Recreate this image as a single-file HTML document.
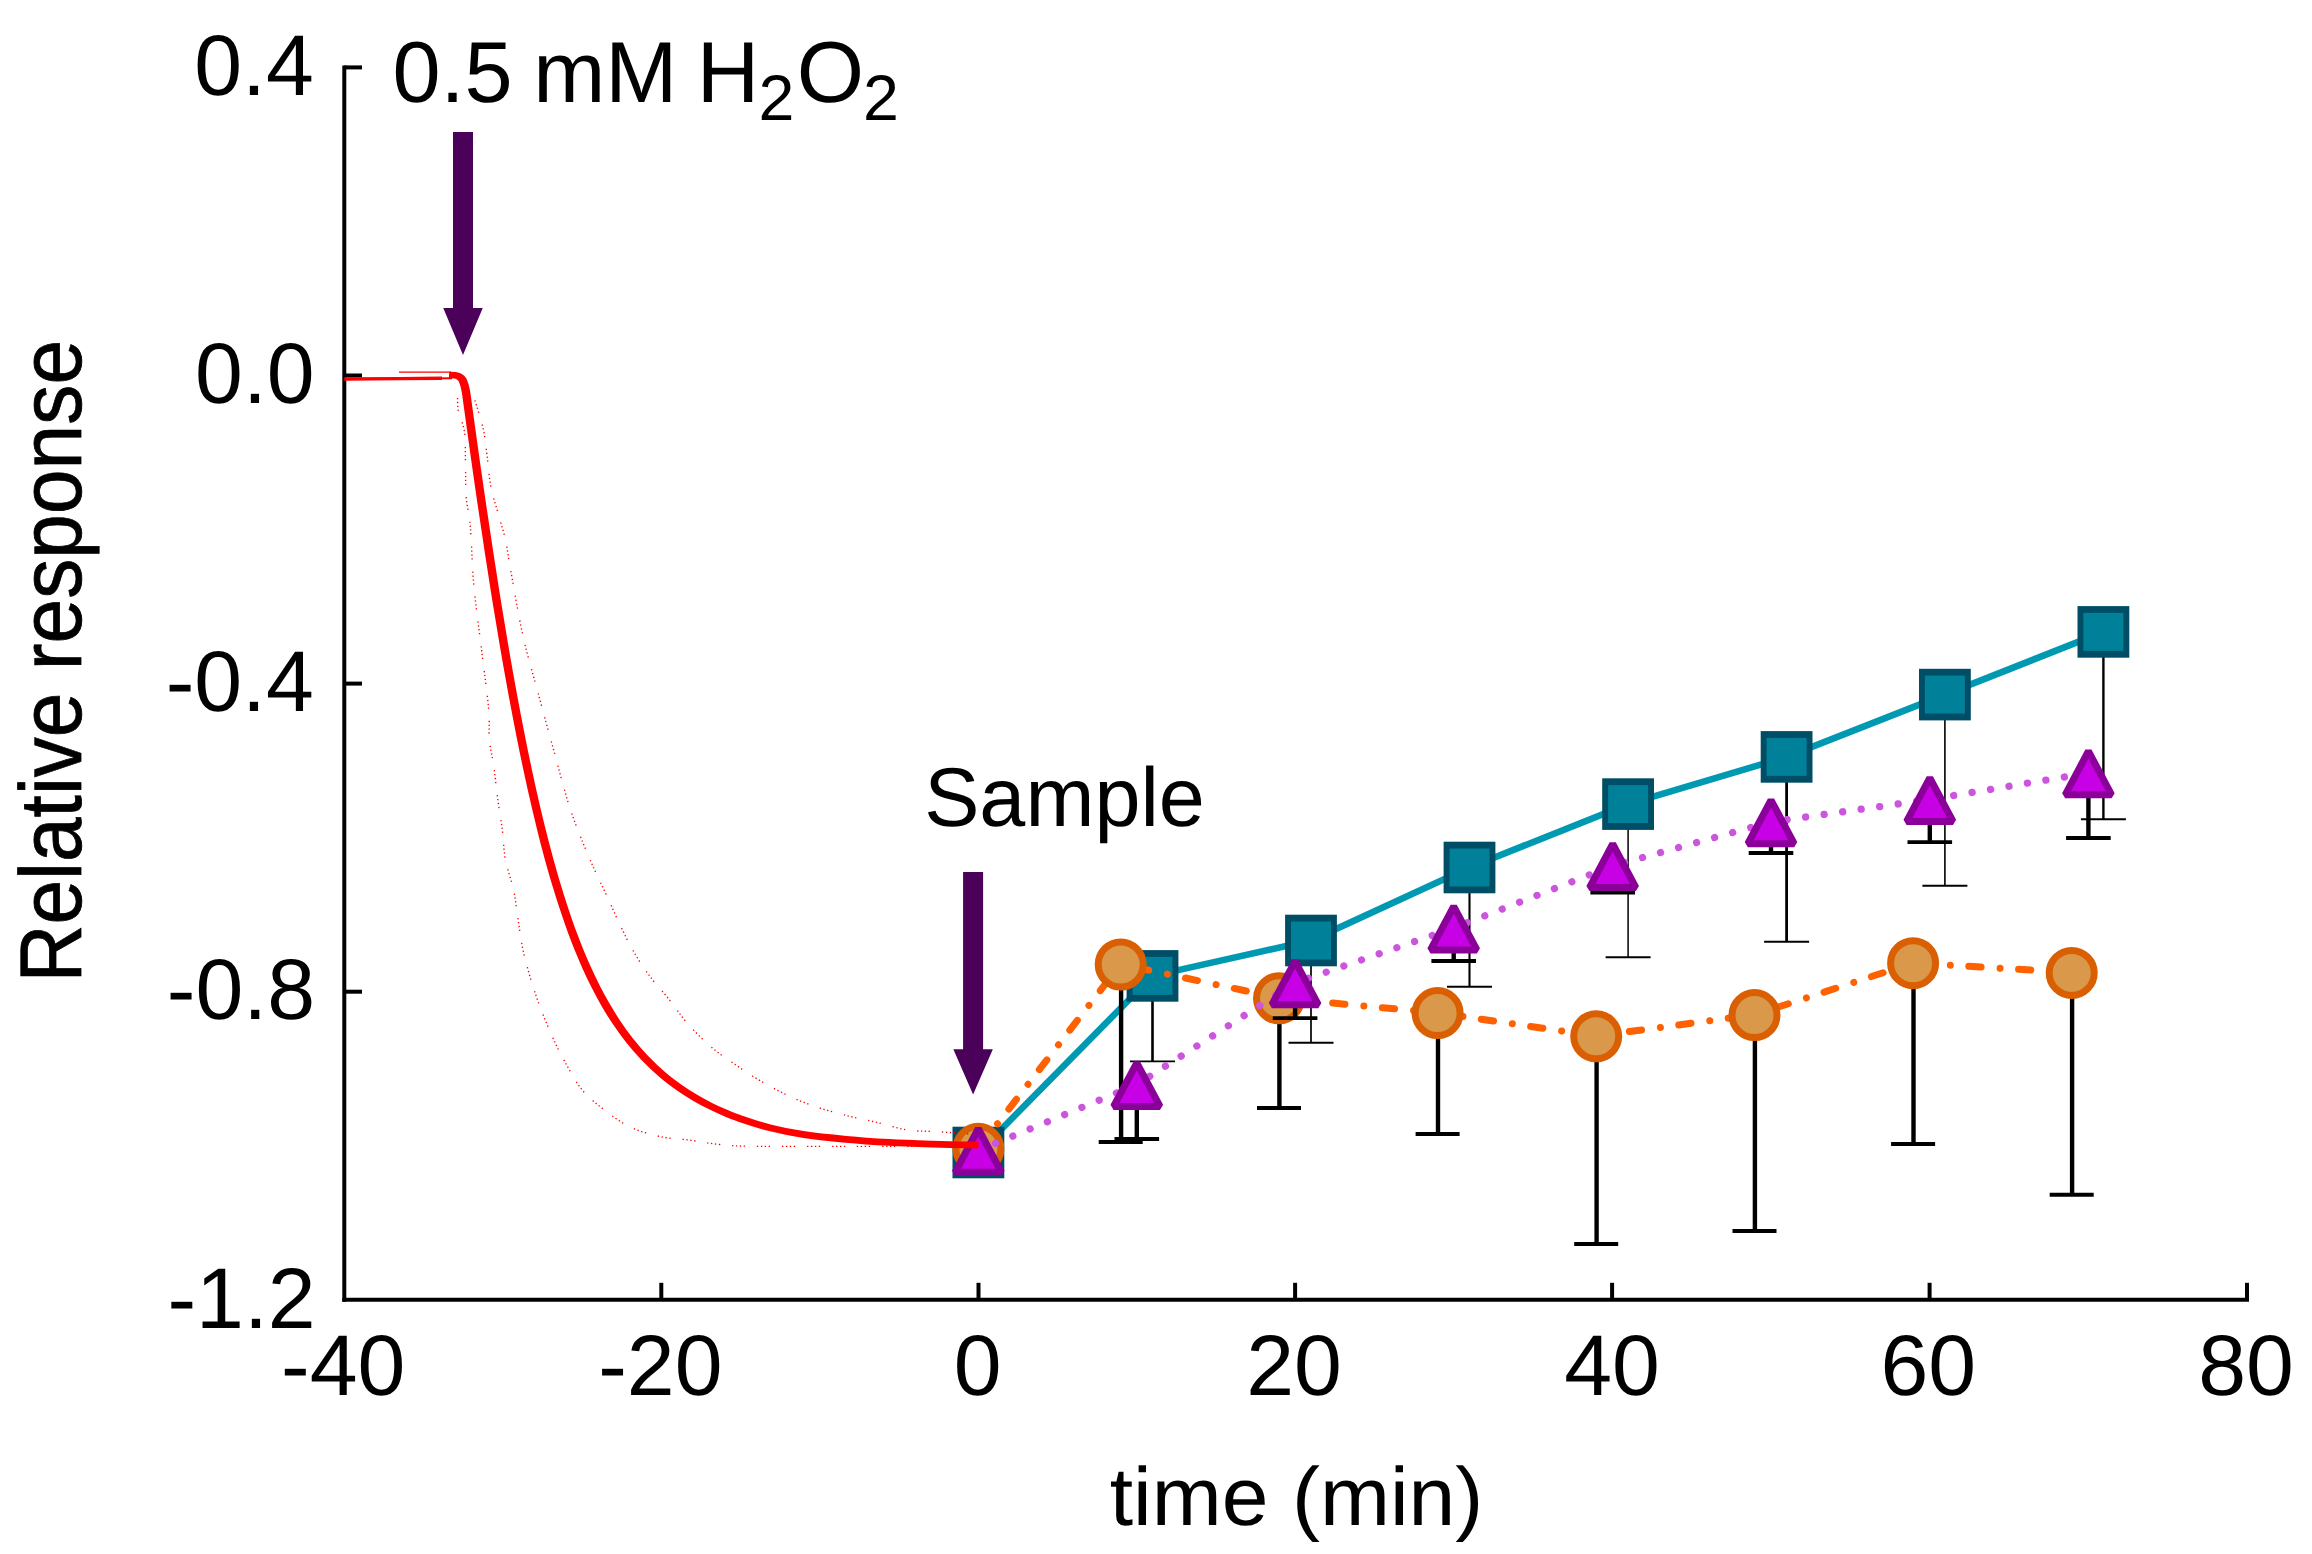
<!DOCTYPE html>
<html lang="en"><head><meta charset="utf-8"><title>Relative response vs time</title>
<style>html,body{margin:0;padding:0;background:#fff;overflow:hidden}svg{display:block}svg text{font-family:"Liberation Sans",sans-serif;text-rendering:geometricPrecision}</style></head>
<body>
<svg width="2312" height="1554" viewBox="0 0 2312 1554" role="img" aria-label="Relative response versus time (min)">
<rect width="2312" height="1554" fill="#fff"/>
<g stroke="#000" stroke-width="4.0" fill="none" stroke-linecap="butt">
<path d="M344.3 65.5 V1301.8"/>
<path d="M342.3 1299.8 H2249.0"/>
<path d="M344.3 67.4 H362"/>
<path d="M344.3 375.5 H362"/>
<path d="M344.3 683.6 H362"/>
<path d="M344.3 991.7 H362"/>
<path d="M661.3 1299.8 V1282.8"/>
<path d="M978.5 1299.8 V1282.8"/>
<path d="M1295.1 1299.8 V1282.8"/>
<path d="M1612.1 1299.8 V1282.8"/>
<path d="M1929.6 1299.8 V1282.8"/>
<path d="M2247.0 1299.8 V1282.8"/>
</g>
<g fill="#000">
<text transform="translate(194.27 95.10) scale(1.0000 1)" font-size="86" >0.4</text>
<text transform="translate(195.11 403.20) scale(1.0000 1)" font-size="86" >0.0</text>
<text transform="translate(165.63 711.30) scale(1.0000 1)" font-size="86" >-0.4</text>
<text transform="translate(166.85 1019.40) scale(1.0000 1)" font-size="86" >-0.8</text>
<text transform="translate(167.43 1327.50) scale(1.0000 1)" font-size="86" >-1.2</text>
<text transform="translate(281.12 1394.60) scale(1.0000 1)" font-size="86" >-40</text>
<text transform="translate(598.22 1394.60) scale(1.0000 1)" font-size="86" >-20</text>
<text transform="translate(953.79 1394.60) scale(1.0000 1)" font-size="86" >0</text>
<text transform="translate(1246.19 1394.60) scale(1.0000 1)" font-size="86" >20</text>
<text transform="translate(1564.26 1394.60) scale(1.0000 1)" font-size="86" >40</text>
<text transform="translate(1880.47 1394.60) scale(1.0000 1)" font-size="86" >60</text>
<text transform="translate(2198.18 1394.60) scale(1.0000 1)" font-size="86" >80</text>
<text font-size="86.5" y="102.3"><tspan x="392.40">0.5</tspan> <tspan x="533.17">mM</tspan> <tspan x="696.75">H</tspan><tspan x="758.41" dy="17.7" font-size="64.5">2</tspan><tspan x="796.78" dy="-17.7">O</tspan><tspan x="863.06" dy="17.7" font-size="64.5">2</tspan></text>
<text transform="translate(924.14 825.60) scale(0.9916 1)" font-size="83.5" >Sample</text>
<text transform="translate(1109.73 1524.70) scale(1.0189 1)" font-size="82.5" >time (min)</text>
<text transform="translate(81.1 982.49) rotate(-90) scale(0.9174 1)" font-size="87.5" stroke="#000" stroke-width="0.8">Relative response</text>
</g>
<path fill="#4B005A" d="M453.0 132 H473.0 V308 H482.75 L463 355.1 L443.25 308 H453.0 Z"/>
<path fill="#4B005A" d="M963.1 872.1 H983.1 V1049.2 H992.85 L973.1 1094.6 L953.35 1049.2 H963.1 Z"/>
<g stroke="#000" stroke-width="1.9" fill="none">
<path stroke-width="2.6" d="M1152.5 975.9 V1061.4"/><path d="M1130.0 1061.4 H1175.0"/>
<path stroke-width="1.7" d="M1311.0 940.5 V1042.7"/><path d="M1288.5 1042.7 H1333.5"/>
<path stroke-width="2.1" d="M1469.5 867.5 V986.7"/><path d="M1447.0 986.7 H1492.0"/>
<path stroke-width="1.5" d="M1628.1 804.1 V957.3"/><path d="M1605.6 957.3 H1650.6"/>
<path stroke-width="2.8" d="M1786.6 756.9 V941.8"/><path d="M1764.1 941.8 H1809.1"/>
<path stroke-width="1.6" d="M1944.9 694.6 V885.7"/><path d="M1922.4 885.7 H1967.4"/>
<path stroke-width="2.4" d="M2103.4 631.9 V819.3"/><path d="M2080.9 819.3 H2125.9"/>
</g>
<polyline fill="none" stroke="#0099B2" stroke-width="6.6" points="978.4,1152.5 1152.5,975.9 1311.0,940.5 1469.5,867.5 1628.1,804.1 1786.6,756.9 1944.9,694.6 2103.4,631.9"/>
<rect x="952.50" y="1126.70" width="51.8" height="51.6" fill="#004D66"/><rect x="958.40" y="1133.50" width="40" height="38" fill="#008099"/>
<rect x="1126.60" y="950.10" width="51.8" height="51.6" fill="#004D66"/><rect x="1132.50" y="956.90" width="40" height="38" fill="#008099"/>
<rect x="1285.10" y="914.70" width="51.8" height="51.6" fill="#004D66"/><rect x="1291.00" y="921.50" width="40" height="38" fill="#008099"/>
<rect x="1443.60" y="841.70" width="51.8" height="51.6" fill="#004D66"/><rect x="1449.50" y="848.50" width="40" height="38" fill="#008099"/>
<rect x="1602.20" y="778.30" width="51.8" height="51.6" fill="#004D66"/><rect x="1608.10" y="785.10" width="40" height="38" fill="#008099"/>
<rect x="1760.70" y="731.10" width="51.8" height="51.6" fill="#004D66"/><rect x="1766.60" y="737.90" width="40" height="38" fill="#008099"/>
<rect x="1919.00" y="668.80" width="51.8" height="51.6" fill="#004D66"/><rect x="1924.90" y="675.60" width="40" height="38" fill="#008099"/>
<rect x="2077.50" y="606.10" width="51.8" height="51.6" fill="#004D66"/><rect x="2083.40" y="612.90" width="40" height="38" fill="#008099"/>
<g stroke="#000" fill="none">
<path stroke-width="4.4" d="M1121.1000000000001 964.2 V1141.9"/><path stroke-width="4" d="M1098.7 1141.9 H1142.7"/>
<path stroke-width="4.4" d="M1279.4 998.0 V1107.9"/><path stroke-width="4" d="M1257.0 1107.9 H1301.0"/>
<path stroke-width="4.4" d="M1438.0 1012.8 V1134.1"/><path stroke-width="4" d="M1415.6 1134.1 H1459.6"/>
<path stroke-width="4.4" d="M1596.6000000000001 1036.0 V1244.0"/><path stroke-width="4" d="M1574.2 1244.0 H1618.2"/>
<path stroke-width="4.4" d="M1754.9 1014.8 V1231.1"/><path stroke-width="4" d="M1732.5 1231.1 H1776.5"/>
<path stroke-width="4.4" d="M1913.5 962.9 V1143.9"/><path stroke-width="4" d="M1891.1 1143.9 H1935.1"/>
<path stroke-width="4.4" d="M2072.1 972.6 V1194.8"/><path stroke-width="4" d="M2049.7 1194.8 H2093.7"/>
</g>
<polyline fill="none" stroke="#FF6000" stroke-width="7" stroke-linecap="round" stroke-dasharray="12.3 19 0.01 18.54" points="978.4,1148.5 1120.7,964.2 1279.0,998.0 1437.6,1012.8 1596.2,1036.0 1754.5,1014.8 1913.1,962.9 2071.7,972.6"/>
<circle cx="978.4" cy="1148.8" r="22.5" fill="#D9984A" stroke="#D95F02" stroke-width="7"/>
<circle cx="1120.7" cy="964.5" r="22.5" fill="#D9984A" stroke="#D95F02" stroke-width="7"/>
<circle cx="1279.0" cy="998.3" r="22.5" fill="#D9984A" stroke="#D95F02" stroke-width="7"/>
<circle cx="1437.6" cy="1013.1" r="22.5" fill="#D9984A" stroke="#D95F02" stroke-width="7"/>
<circle cx="1596.2" cy="1036.3" r="22.5" fill="#D9984A" stroke="#D95F02" stroke-width="7"/>
<circle cx="1754.5" cy="1015.1" r="22.5" fill="#D9984A" stroke="#D95F02" stroke-width="7"/>
<circle cx="1913.1" cy="963.2" r="22.5" fill="#D9984A" stroke="#D95F02" stroke-width="7"/>
<circle cx="2071.7" cy="972.9" r="22.5" fill="#D9984A" stroke="#D95F02" stroke-width="7"/>
<g stroke="#000" fill="none">
<path stroke-width="4.4" d="M1136.8 1085.5500000000002 V1139.0"/><path stroke-width="3.8" d="M1114.5 1139.0 H1159.1"/>
<path stroke-width="4.4" d="M1295.1 983.85 V1018.1"/><path stroke-width="3.8" d="M1272.8 1018.1 H1317.3999999999999"/>
<path stroke-width="4.4" d="M1453.7 929.05 V961.0"/><path stroke-width="3.8" d="M1431.4 961.0 H1476.0"/>
<path stroke-width="4.4" d="M1612.7 866.75 V892.5"/><path stroke-width="3.8" d="M1590.4 892.5 H1635.0"/>
<path stroke-width="4.4" d="M1771.0 822.9 V853.0"/><path stroke-width="3.8" d="M1748.7 853.0 H1793.3"/>
<path stroke-width="4.4" d="M1929.8 800.55 V842.1"/><path stroke-width="3.8" d="M1907.5 842.1 H1952.1"/>
<path stroke-width="4.4" d="M2088.4 774.0 V838.0"/><path stroke-width="3.8" d="M2066.1 838.0 H2110.7000000000003"/>
</g>
<polyline fill="none" stroke="#CC55DD" stroke-width="7.3" stroke-linecap="round" stroke-dasharray="0.01 18.69" points="978.3,1150.5 1136.8,1084.6 1295.1,982.9 1453.7,928.0 1612.7,865.8 1771.0,821.9 1929.8,799.5 2088.4,773.0"/>
<path d="M978.3 1128.75 L1001.50 1172.35 H955.10 Z" fill="#C800E6" stroke="#8B0099" stroke-width="7" stroke-linejoin="bevel"/>
<path d="M1136.8 1062.80 L1160.00 1106.40 H1113.60 Z" fill="#C800E6" stroke="#8B0099" stroke-width="7" stroke-linejoin="bevel"/>
<path d="M1295.1 961.10 L1318.30 1004.70 H1271.90 Z" fill="#C800E6" stroke="#8B0099" stroke-width="7" stroke-linejoin="bevel"/>
<path d="M1453.7 906.30 L1476.90 949.90 H1430.50 Z" fill="#C800E6" stroke="#8B0099" stroke-width="7" stroke-linejoin="bevel"/>
<path d="M1612.7 844.00 L1635.90 887.60 H1589.50 Z" fill="#C800E6" stroke="#8B0099" stroke-width="7" stroke-linejoin="bevel"/>
<path d="M1771.0 800.15 L1794.20 843.75 H1747.80 Z" fill="#C800E6" stroke="#8B0099" stroke-width="7" stroke-linejoin="bevel"/>
<path d="M1929.8 777.80 L1953.00 821.40 H1906.60 Z" fill="#C800E6" stroke="#8B0099" stroke-width="7" stroke-linejoin="bevel"/>
<path d="M2088.4 751.25 L2111.60 794.85 H2065.20 Z" fill="#C800E6" stroke="#8B0099" stroke-width="7" stroke-linejoin="bevel"/>
<path fill="none" stroke="#FF0000" stroke-width="1.35" stroke-dasharray="1.3 2.6 1.3 2.6 1.3 2.6 1.3 12" d="M457.50 398.00 C457.67 400.33 457.33 406.33 458.50 412.00 C459.67 417.67 463.33 423.17 464.50 432.00 C465.67 440.83 465.22 454.17 465.50 465.00 C465.78 475.83 465.38 486.67 466.20 497.00 C467.02 507.33 469.13 512.33 470.40 527.00 C471.67 541.67 471.93 564.50 473.80 585.00 C475.67 605.50 479.13 629.38 481.60 650.00 C484.07 670.62 487.30 693.73 488.60 708.70 C489.90 723.67 488.53 730.15 489.40 739.80 C490.27 749.45 492.42 756.78 493.80 766.60 C495.18 776.42 496.27 788.02 497.70 798.70 C499.13 809.38 501.10 820.47 502.40 830.70 C503.70 840.93 503.62 850.15 505.50 860.10 C507.38 870.05 511.62 880.58 513.70 890.40 C515.78 900.22 516.50 909.33 518.00 919.00 C519.50 928.67 520.65 938.63 522.70 948.40 C524.75 958.17 527.42 967.87 530.30 977.60 C533.18 987.33 536.22 996.72 540.00 1006.80 C543.78 1016.88 548.85 1028.92 553.00 1038.10 C557.15 1047.28 560.03 1053.25 564.90 1061.90 C569.77 1070.55 575.72 1082.07 582.20 1090.00 C588.68 1097.93 595.87 1103.37 603.80 1109.50 C611.73 1115.63 620.43 1122.30 629.80 1126.80 C639.17 1131.30 649.92 1134.27 660.00 1136.50 C670.08 1138.73 680.38 1138.87 690.30 1140.20 C700.22 1141.53 709.05 1143.48 719.50 1144.50 C729.95 1145.52 731.92 1146.00 753.00 1146.30 C774.08 1146.60 816.50 1146.30 846.00 1146.30 C875.50 1146.30 916.00 1146.30 930.00 1146.30"/>
<path fill="none" stroke="#FF0000" stroke-width="1.35" stroke-dasharray="1.3 2.6 1.3 2.6 1.3 2.6 1.3 12" d="M474.90 400.40 C476.27 405.07 481.08 419.30 483.10 428.40 C485.12 437.50 485.70 445.25 487.00 455.00 C488.30 464.75 488.90 476.67 490.90 486.90 C492.90 497.13 496.57 507.52 499.00 516.40 C501.43 525.28 503.50 530.93 505.50 540.20 C507.50 549.47 508.05 555.87 511.00 572.00 C513.95 588.13 518.57 616.42 523.20 637.00 C527.83 657.58 534.92 680.97 538.80 695.50 C542.68 710.03 543.82 714.37 546.50 724.20 C549.18 734.03 552.22 744.68 554.90 754.50 C557.58 764.32 559.95 773.72 562.60 783.10 C565.25 792.48 567.70 801.57 570.80 810.80 C573.90 820.03 577.32 828.83 581.20 838.50 C585.08 848.17 589.92 859.43 594.10 868.80 C598.28 878.17 602.17 885.77 606.30 894.70 C610.43 903.63 614.45 913.10 618.90 922.40 C623.35 931.70 627.95 941.67 633.00 950.50 C638.05 959.33 643.07 967.10 649.20 975.40 C655.33 983.70 663.48 992.37 669.80 1000.30 C676.12 1008.23 680.25 1015.25 687.10 1023.00 C693.95 1030.75 702.98 1039.95 710.90 1046.80 C718.82 1053.65 726.50 1058.52 734.60 1064.10 C742.70 1069.68 750.67 1075.08 759.50 1080.30 C768.33 1085.52 778.40 1091.07 787.60 1095.40 C796.80 1099.73 805.32 1103.05 814.70 1106.30 C824.08 1109.55 833.82 1112.28 843.90 1114.90 C853.98 1117.52 864.57 1119.48 875.20 1122.00 C885.83 1124.52 897.42 1128.40 907.70 1130.00 C917.98 1131.60 926.52 1130.93 936.90 1131.60 C947.28 1132.27 964.48 1133.60 970.00 1134.00"/>
<path fill="none" stroke="#FF0000" stroke-width="3.4" d="M344.3 379 L400 378.6 L442 378.3"/>
<path fill="none" stroke="#FF0000" stroke-width="1.2" d="M399 372.2 H451"/>
<path fill="none" stroke="#FF0000" stroke-width="2" d="M442 378.3 H452"/>
<path transform="scale(1.26 1)" fill="none" stroke="#FF0000" stroke-width="6.7" stroke-linejoin="round" d="M356.35 375.00 C357.14 375.03 359.79 374.95 361.11 375.20 C362.43 375.45 363.32 375.78 364.29 376.50 C365.25 377.22 366.19 378.08 366.90 379.50 C367.62 380.92 368.08 382.92 368.57 385.00 C369.06 387.08 369.30 387.83 369.84 392.00 C370.38 396.17 371.16 404.00 371.83 410.00 C372.49 416.00 373.15 422.00 373.81 428.00 C374.47 434.00 375.13 440.00 375.79 446.00 C376.46 452.00 377.10 458.00 377.78 464.00 C378.45 470.00 379.15 476.00 379.84 482.00 C380.53 488.00 381.20 494.00 381.90 500.00 C382.61 506.00 383.33 512.00 384.05 518.00 C384.76 524.00 385.48 530.00 386.19 536.00 C386.90 542.00 387.61 548.00 388.33 554.00 C389.06 560.00 389.81 566.00 390.56 572.00 C391.30 578.00 392.02 584.00 392.78 590.00 C393.53 596.00 394.30 602.00 395.08 608.00 C395.86 614.00 396.67 620.00 397.46 626.00 C398.25 632.00 399.03 638.00 399.84 644.00 C400.65 650.00 401.47 656.00 402.30 662.00 C403.13 668.00 403.98 674.00 404.84 680.00 C405.70 686.00 406.57 692.00 407.46 698.00 C408.35 704.00 409.25 710.00 410.16 716.00 C411.07 722.00 412.00 728.00 412.94 734.00 C413.88 740.00 414.81 746.00 415.79 752.00 C416.77 758.00 417.79 764.00 418.81 770.00 C419.83 776.00 420.85 782.00 421.90 788.00 C422.96 794.00 424.05 800.00 425.16 806.00 C426.27 812.00 427.41 818.00 428.57 824.00 C429.74 830.00 430.91 836.00 432.14 842.00 C433.37 848.00 434.64 854.00 435.95 860.00 C437.26 866.00 438.60 872.00 440.00 878.00 C441.40 884.00 442.86 890.00 444.37 896.00 C445.87 902.00 447.43 908.00 449.05 914.00 C450.66 920.00 452.29 926.00 454.05 932.00 C455.81 938.00 457.66 944.00 459.60 950.00 C461.55 956.00 463.56 962.00 465.71 968.00 C467.87 974.00 470.12 980.00 472.54 986.00 C474.96 992.00 477.49 998.00 480.24 1004.00 C482.99 1010.00 485.86 1016.00 489.05 1022.00 C492.24 1028.00 495.58 1034.00 499.37 1040.00 C503.15 1046.00 507.30 1052.17 511.75 1058.00 C516.19 1063.83 521.40 1070.00 526.03 1075.00 C530.66 1080.00 535.20 1084.17 539.52 1088.00 C543.85 1091.83 547.95 1095.00 551.98 1098.00 C556.02 1101.00 559.89 1103.58 563.73 1106.00 C567.57 1108.42 571.22 1110.47 575.00 1112.50 C578.78 1114.53 580.37 1115.63 586.43 1118.20 C592.49 1120.77 602.90 1125.20 611.35 1127.90 C619.80 1130.60 627.13 1132.50 637.14 1134.40 C647.16 1136.30 659.99 1137.97 671.43 1139.30 C682.87 1140.63 694.35 1141.60 705.79 1142.40 C717.24 1143.20 728.28 1143.63 740.08 1144.10 C751.88 1144.57 770.50 1145.02 776.59 1145.20"/>
</svg>
</body></html>
